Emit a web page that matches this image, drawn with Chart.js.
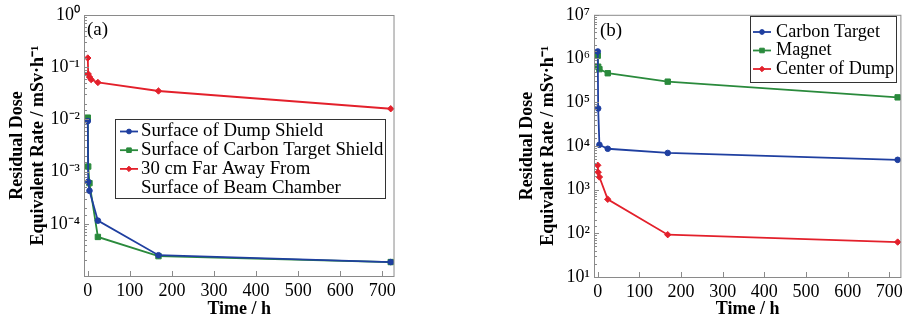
<!DOCTYPE html>
<html>
<head>
<meta charset="utf-8">
<script src="https://cdn.jsdelivr.net/npm/chart.js@4.4.0/dist/chart.umd.min.js"></script>
<style>
  body { margin: 0; background: #fff; width: 907px; height: 322px; position: relative; overflow: hidden; }
  canvas { position: absolute; top: 0; }
</style>
</head>
<body>
<canvas id="chartA" width="400" height="322" style="left:0"></canvas>
<canvas id="chartB" width="397" height="322" style="left:510px"></canvas>
<script>
// (a) time after shutdown, hours
const timesA = [0, 1, 4, 24, 168, 720];
const timesRedA = [0, 1, 4, 8, 24, 168, 720];
const dumpShield = [9.3e-3, 6.4e-4, 4.3e-4, 1.15e-4, 2.5e-5, 1.85e-5];
const carbonShield = [1.08e-2, 1.25e-3, 6.0e-4, 5.6e-5, 2.4e-5, 1.85e-5];
const beamChamber = [0.15, 0.074, 0.065, 0.058, 0.051, 0.035, 0.016];

// (b)
const timesB = [0, 1, 4, 24, 168, 720];
const carbonTarget = [1.45e6, 7.2e4, 1.06e4, 8.6e3, 6.9e3, 4.8e3];
const magnet = [1.16e6, 6.5e5, 5.7e5, 4.6e5, 2.95e5, 1.29e5];
const dumpCenter = [3.6e3, 2.5e3, 1.94e3, 600, 93, 63];

const namesA = ['Surface of Dump Shield', 'Surface of Carbon Target Shield', '30 cm Far Away From\nSurface of Beam Chamber'];
const namesB = ['Carbon Target', 'Magnet', 'Center of Dump'];

// exponents that get a label on each y axis
const yExpA = [0, -1, -2, -3, -4];
const yExpB = [1, 2, 3, 4, 5, 6, 7];

const BLUE = '#1f3fa0', GREEN = '#2a8a3c', RED = '#e3202b';
const FONT = '"Liberation Serif", "Times New Roman", serif';
const SUP = { '-': '\u207B', '0': '\u2070', '1': '\u00B9', '2': '\u00B2', '3': '\u00B3', '4': '\u2074', '5': '\u2075', '6': '\u2076', '7': '\u2077', '8': '\u2078', '9': '\u2079' };

function powLabel(v, allowed) {
  const e = Math.log10(v), r = Math.round(e);
  if (Math.abs(e - r) > 1e-6 || !allowed.includes(r)) return '';
  return '10' + String(r).split('').map(c => SUP[c]).join('');
}

function series(label, xs, ys, color, style, r) {
  return {
    label, data: xs.map((x, i) => ({ x, y: ys[i] })),
    borderColor: color, backgroundColor: color, borderWidth: 1.8,
    pointStyle: style, pointRadius: r, pointHoverRadius: r, pointBorderWidth: 1, tension: 0
  };
}

// frame, inward ticks, panel tag and boxed legend
const extras = {
  id: 'extras',
  afterDatasetsDraw(chart, args, o) {
    const { ctx, chartArea: a } = chart;
    ctx.save();
    ctx.strokeStyle = '#8a8a8a';
    ctx.lineWidth = 1;
    ctx.strokeRect(a.left + 0.5, a.top + 0.5, a.right - a.left - 1, a.bottom - a.top);
    const ys = chart.scales.y;
    ys.ticks.forEach(t => {
      const py = Math.round(ys.getPixelForValue(t.value)) + 0.5;
      const e = Math.log10(t.value);
      const major = Math.abs(e - Math.round(e)) < 1e-6;
      ctx.beginPath(); ctx.moveTo(a.left, py); ctx.lineTo(a.left + (major ? 5 : 3), py); ctx.stroke();
    });
    const xs = chart.scales.x;
    xs.ticks.forEach(t => {
      const px = Math.round(xs.getPixelForValue(t.value)) + 0.5;
      ctx.beginPath(); ctx.moveTo(px, a.bottom); ctx.lineTo(px, a.bottom - 5); ctx.stroke();
    });

    ctx.fillStyle = '#000';
    ctx.font = '19px ' + FONT;
    ctx.textBaseline = 'middle';
    ctx.fillText(o.tag, a.left + o.tagDx, a.top + o.tagDy);

    // legend
    const L = o.legend;
    ctx.font = L.size + 'px ' + FONT;
    ctx.fillStyle = '#fff';
    ctx.fillRect(L.x, L.y, L.w, L.h);
    ctx.strokeStyle = '#333';
    ctx.strokeRect(L.x + 0.5, L.y + 0.5, L.w, L.h);
    let row = 0;
    chart.data.datasets.forEach(ds => {
      const y = L.row0 + row * L.rowH;
      ctx.strokeStyle = ds.borderColor;
      ctx.lineWidth = 1.8;
      ctx.beginPath(); ctx.moveTo(L.line0, y); ctx.lineTo(L.line1, y); ctx.stroke();
      ctx.fillStyle = ds.backgroundColor;
      ctx.lineWidth = 1;
      Chart.helpers.drawPoint(ctx, { pointStyle: ds.pointStyle, radius: ds.pointRadius * 0.85, rotation: 0, borderWidth: 1 }, (L.line0 + L.line1) / 2, y);
      ctx.fillStyle = '#000';
      ds.label.split('\n').forEach(line => {
        ctx.fillText(line, L.textX, L.row0 + row * L.rowH);
        row++;
      });
    });
    ctx.restore();
  }
};

function makeScales(yMin, yMax, yExp, xHeight) {
  return {
    x: {
      type: 'linear', min: -9, max: 729,
      grid: { display: false, drawTicks: false }, border: { display: false },
      ticks: { stepSize: 100, includeBounds: false, padding: 4, color: '#000', maxRotation: 0, font: { family: FONT, size: 18 } },
      title: { display: true, text: 'Time / h', color: '#000', font: { family: FONT, size: 18, weight: 'bold' }, padding: { top: 0, bottom: 2 } },
      afterFit: s => { s.height = xHeight; }
    },
    y: {
      type: 'logarithmic', min: yMin, max: yMax,
      grid: { display: false, drawTicks: false }, border: { display: false },
      ticks: { autoSkip: false, padding: 4, color: '#000', font: { family: FONT, size: 18 }, callback: v => powLabel(v, yExp) },
      title: {
        display: true, text: ['Residual Dose', 'Equivalent Rate / mSv\u00B7h\u207B\u00B9'], color: '#000',
        font: { family: FONT, size: 18, weight: 'bold', lineHeight: 1.15 }, padding: { top: 7, bottom: 0 }
      },
      afterFit: s => { s.width = 84; }
    }
  };
}

new Chart(document.getElementById('chartA'), {
  type: 'line',
  data: {
    datasets: [
      series(namesA[0], timesA, dumpShield, BLUE, 'circle', 2.8),
      series(namesA[1], timesA, carbonShield, GREEN, 'rect', 3.8),
      series(namesA[2], timesRedA, beamChamber, RED, 'rectRot', 3.2)
    ]
  },
  options: {
    responsive: false, animation: false,
    layout: { padding: { top: 15, right: 4, bottom: 0, left: 0 } },
    plugins: {
      legend: { display: false }, tooltip: { enabled: false },
      extras: { tag: '(a)', tagDx: 3, tagDy: 15,
        legend: { x: 115, y: 119, w: 270, h: 79, row0: 131.5, rowH: 18.7, line0: 120, line1: 138, textX: 141, size: 18.8 } }
    },
    scales: makeScales(1e-5, 1, yExpA, 46)
  },
  plugins: [extras]
});

new Chart(document.getElementById('chartB'), {
  type: 'line',
  data: {
    datasets: [
      series(namesB[0], timesB, carbonTarget, BLUE, 'circle', 2.8),
      series(namesB[1], timesB, magnet, GREEN, 'rect', 3.8),
      series(namesB[2], timesB, dumpCenter, RED, 'rectRot', 3.2)
    ]
  },
  options: {
    responsive: false, animation: false,
    layout: { padding: { top: 14, right: 2, bottom: 0, left: 0 } },
    plugins: {
      legend: { display: false }, tooltip: { enabled: false },
      extras: { tag: '(b)', tagDx: 6, tagDy: 16,
        legend: { x: 240, y: 16, w: 146, h: 66, row0: 32, rowH: 18.5, line0: 243, line1: 261, textX: 266, size: 18.2 } }
    },
    scales: makeScales(10, 1e7, yExpB, 45)
  },
  plugins: [extras]
});
</script>
</body>
</html>
